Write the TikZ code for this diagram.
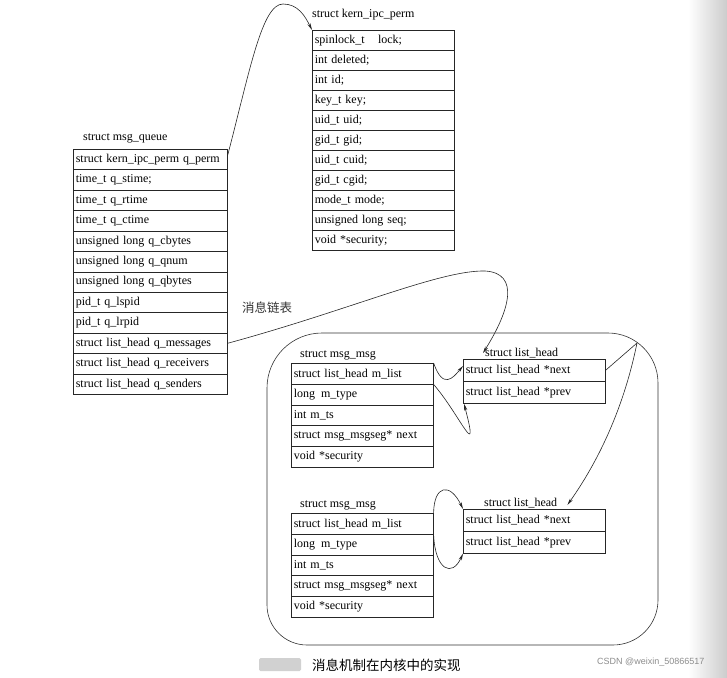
\documentclass[tikz,border=0pt]{standalone}
\usepackage{fontspec}
\setmainfont{Liberation Serif}
\newfontfamily\cjkfont{Noto Sans CJK SC}
\newfontfamily\wmfont{Liberation Sans}
\usetikzlibrary{arrows.meta}
\begin{document}
\begin{tikzpicture}[x=1pt,y=-1pt,
  fld/.style={draw=black!85, line width=0.6pt, anchor=north west, inner xsep=2.5pt, inner ysep=0pt,
              align=left, font=\fontsize{12}{14}\selectfont},
  ttl/.style={anchor=west, inner sep=0pt, font=\fontsize{12}{14}\selectfont},
  lnk/.style={draw=black!85, line width=0.6pt, -{Stealth[length=7pt,width=3.2pt]}},
  box/.style={draw=black!80, line width=0.6pt}
]
\useasboundingbox (0,0) rectangle (727,677);
\shade[left color=white, right color=black!20] (688,0) rectangle (727,677);

% container
\draw[box] (267,605) -- (267,388) .. controls (267,357.6) and (291.6,333) .. (322,333)
  -- (608,333) .. controls (635.6,333) and (658,355.4) .. (658,383)
  -- (658,600) .. controls (658,624.9) and (637.9,645) .. (613,645)
  -- (307,645) .. controls (284.9,645) and (267,627.1) .. (267,605) -- cycle;

% struct msg_queue
\node[ttl] (mqt) at (83,138) {struct msg\_queue};
\foreach \t [count=\i] in {struct kern\_ipc\_perm q\_perm, time\_t q\_stime;, time\_t q\_rtime,
  time\_t q\_ctime, unsigned long q\_cbytes, unsigned long q\_qnum, unsigned long q\_qbytes,
  pid\_t q\_lspid, pid\_t q\_lrpid, struct list\_head q\_messages, struct list\_head q\_receivers,
  struct list\_head q\_senders}
  \node[fld, text width=149pt, minimum height=20.42pt] (mq-\i) at (73,{149+(\i-1)*20.42}) {\t};

% struct kern_ipc_perm
\node[ttl] (kpt) at (312,15) {struct kern\_ipc\_perm};
\foreach \t [count=\i] in {spinlock\_t\hspace{1.1em}lock;, int deleted;, int id;, key\_t key;,
  uid\_t uid;, gid\_t gid;, uid\_t cuid;, gid\_t cgid;, mode\_t mode;, unsigned long seq;,
  void *security;}
  \node[fld, text width=137pt, minimum height=20pt] (kp-\i) at (312,{30+(\i-1)*20}) {\t};

% first struct msg_msg
\node[ttl] (mm1t) at (300,355) {struct msg\_msg};
\foreach \t [count=\i] in {struct list\_head m\_list, long\enspace m\_type, int m\_ts,
  struct msg\_msgseg* next, void *security}
  \node[fld, text width=137pt, minimum height=20.8pt] (mm1-\i) at (291,{363+(\i-1)*20.8}) {\t};

% first struct list_head
\node[ttl] (lh1t) at (485,353) {struct list\_head};
\foreach \t [count=\i] in {struct list\_head *next, struct list\_head *prev}
  \node[fld, text width=137pt, minimum height=22pt] (lh1-\i) at (463,{359+(\i-1)*22}) {\t};

% second struct msg_msg
\node[ttl] (mm2t) at (300,505) {struct msg\_msg};
\foreach \t [count=\i] in {struct list\_head m\_list, long\enspace m\_type, int m\_ts,
  struct msg\_msgseg* next, void *security}
  \node[fld, text width=137pt, minimum height=20.8pt] (mm2-\i) at (291,{513+(\i-1)*20.8}) {\t};

% second struct list_head
\node[ttl] (lh2t) at (484,503) {struct list\_head};
\foreach \t [count=\i] in {struct list\_head *next, struct list\_head *prev}
  \node[fld, text width=137pt, minimum height=22pt] (lh2-\i) at (463,{509+(\i-1)*22}) {\t};

% connectors
\draw[lnk] ([yshift=4pt]mq-1.east) .. controls (250,70) and (262,4) .. (283,4)
  .. controls (298,4) and (305,16) .. (kp-1.north west);
\draw[lnk] (mq-10.east) .. controls (350,310) and (440,270) .. (485,271)
  .. controls (520,273) and (510,310) .. ([xshift=-2pt]lh1t.west);
\draw[lnk] (mm1-1.north east) .. controls (443,390) and (453,378) .. ([yshift=-7pt]lh1-1.north west);
\draw[lnk] (mm1-1.south east) .. controls (460,415) and (480,465) .. ([xshift=1pt]lh1-2.south west);
\draw[lnk] (mm2-1.north east) .. controls (434,485) and (450,482) .. (lh2-1.north west);
\draw[lnk] (mm2-1.south east) .. controls (435,570) and (452,578) .. (lh2-2.south west);
\coordinate (apex) at (637,343);
\draw[lnk] (lh1-1.east) -- (apex) .. controls (625,402) and (602,456) .. ([xshift=10pt,yshift=-2pt]lh2t.east);

% labels
\node[anchor=west, inner sep=0pt, font=\cjkfont\fontsize{12.5}{14}\selectfont, text=black!80] (lbl) at (242,308) {消息链表};
\fill[black!18, rounded corners=1.5pt] (259,658) rectangle (301,671);
\node[anchor=west, inner sep=0pt, font=\cjkfont\fontsize{13.5}{15}\selectfont] (cap) at (312,665) {消息机制在内核中的实现};
\node[anchor=west, inner sep=0pt, font=\wmfont\fontsize{9}{10}\selectfont, text=black!45] (wm) at (597,662) {CSDN @weixin\_50866517};
\end{tikzpicture}
\end{document}
